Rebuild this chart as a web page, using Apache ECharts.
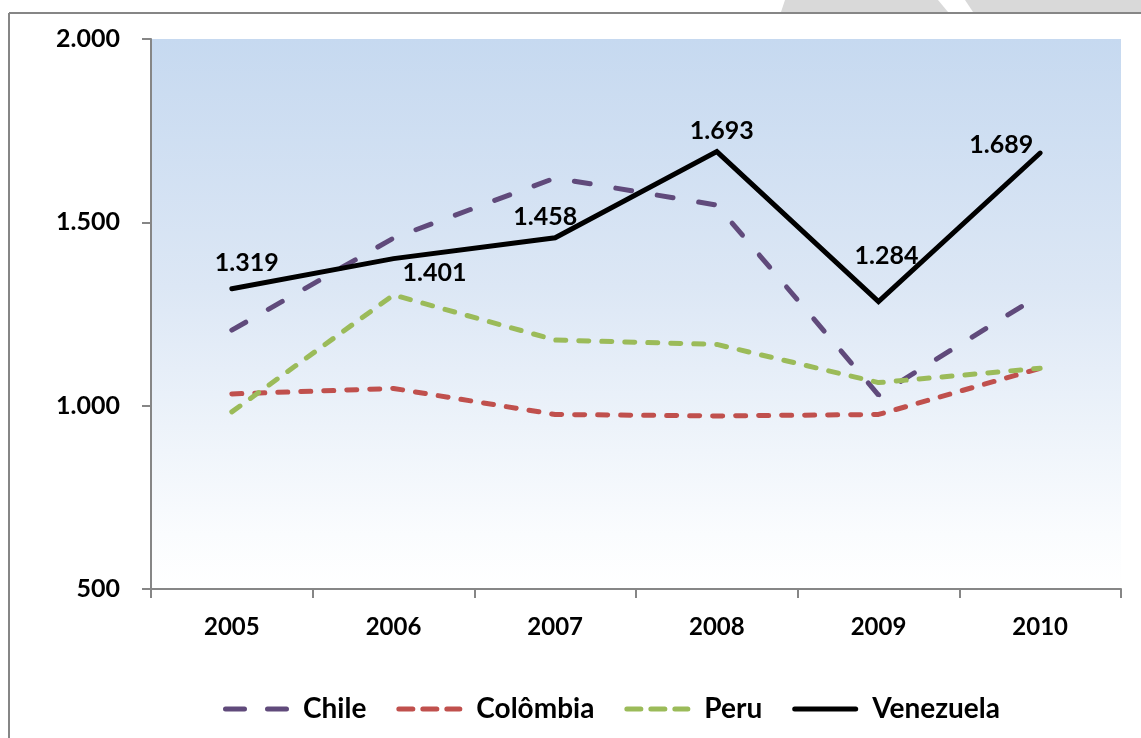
<!DOCTYPE html>
<html>
<head>
<meta charset="utf-8">
<script src="https://cdn.jsdelivr.net/npm/echarts@6/dist/echarts.min.js"></script>
<style>
html,body{margin:0;padding:0;background:#fff;}
#chart{width:1141px;height:738px;}
</style>
</head>
<body>
<div id="chart"></div>
<script>
var years = ['2005', '2006', '2007', '2008', '2009', '2010'];
var chile = [1206, 1457, 1621, 1547, 1029, 1302];
var colombia = [1032, 1047, 976, 972, 976, 1102];
var peru = [983, 1302, 1179, 1167, 1063, 1102];
var venezuela = [1319, 1401, 1458, 1693, 1284, 1689];
var yTicks = [500, 1000, 1500, 2000];

// label offsets for the Venezuela data labels (style only)
var vLabelOffsets = [[15, -26], [41, 14], [-10, -21], [5, -21], [8, -46], [-39, -8]];

function fmt(v) {
  return String(v).replace(/\B(?=(\d{3})+(?!\d))/g, '.');
}

// rounded dash pieces for legend icons (style only)
function dashPath(pieces, h) {
  var r = h / 2, d = '';
  pieces.forEach(function (p) {
    var a = p[0], b = p[1];
    d += 'M' + (a + r) + ',0 L' + (b - r) + ',0 A' + r + ',' + r + ' 0 0 1 ' + (b - r) + ',' + h +
         ' L' + (a + r) + ',' + h + ' A' + r + ',' + r + ' 0 0 1 ' + (a + r) + ',0 Z ';
  });
  return 'path://' + d;
}

var chart = echarts.init(document.getElementById('chart'));
var FONT = 'Lato';

var vData = venezuela.map(function (v, i) {
  return {
    value: v,
    label: { show: true, position: 'inside', offset: vLabelOffsets[i] }
  };
});

var option = {
  animation: false,
  backgroundColor: '#ffffff',
  graphic: [
    { type: 'polygon', shape: { points: [[785, 0], [938, 0], [948, 12], [781, 12]] }, style: { fill: '#d9d9d9' }, silent: true },
    { type: 'polygon', shape: { points: [[965, 0], [1141, 0], [1141, 12], [973, 12]] }, style: { fill: '#d9d9d9' }, silent: true },
    { type: 'line', shape: { x1: 9, y1: 13, x2: 1141, y2: 13 }, style: { stroke: '#868686', lineWidth: 2 }, silent: true },
    { type: 'line', shape: { x1: 9, y1: 13, x2: 9, y2: 738 }, style: { stroke: '#868686', lineWidth: 2 }, silent: true }
  ],
  grid: {
    left: 151, right: 20, top: 39, bottom: 149,
    show: true, borderWidth: 0,
    backgroundColor: new echarts.graphic.LinearGradient(0, 0, 0, 1, [
      { offset: 0, color: '#c6d9f0' },
      { offset: 0.45, color: '#dce7f5' },
      { offset: 0.9, color: '#fafcfe' },
      { offset: 1, color: '#ffffff' }
    ])
  },
  legend: {
    left: 218, top: 690,
    itemWidth: 66, itemHeight: 5,
    itemGap: 30,
    textStyle: { fontFamily: FONT, fontWeight: 'bold', fontSize: 28, color: '#000', padding: [0, 0, 0, 9] },
    data: [
      { name: 'Chile', icon: dashPath([[0, 24], [42, 66]], 5), itemStyle: { color: '#604a7b' } },
      { name: 'Colômbia', icon: dashPath([[0, 19], [24, 43], [48, 66]], 5), itemStyle: { color: '#c0504d' } },
      { name: 'Peru', icon: dashPath([[0, 19], [24, 43], [48, 66]], 5), itemStyle: { color: '#9bbb59' } },
      { name: 'Venezuela', icon: dashPath([[0, 66]], 5), itemStyle: { color: '#000000' } }
    ]
  },
  xAxis: {
    type: 'category',
    data: years,
    boundaryGap: true,
    axisLine: { lineStyle: { color: '#868686', width: 2 } },
    axisTick: { show: true, length: 9, lineStyle: { color: '#868686', width: 2 } },
    axisLabel: { fontFamily: FONT, fontWeight: 'bold', fontSize: 24, color: '#000', margin: 26 },
    splitLine: { show: false }
  },
  yAxis: {
    type: 'value',
    min: yTicks[0], max: yTicks[yTicks.length - 1], interval: 500,
    axisLine: { show: true, lineStyle: { color: '#868686', width: 2 } },
    axisTick: { show: true, length: 9, lineStyle: { color: '#868686', width: 2 } },
    axisLabel: { fontFamily: FONT, fontWeight: 'bold', fontSize: 25, color: '#000', margin: 31, formatter: function (v) { return fmt(v); } },
    splitLine: { show: false }
  },
  series: [
    {
      name: 'Chile', type: 'line', data: chile,
      symbol: 'none',
      lineStyle: { color: '#604a7b', width: 5, type: [16, 26], cap: 'round' },
      itemStyle: { color: '#604a7b' }
    },
    {
      name: 'Colômbia', type: 'line', data: colombia,
      symbol: 'none',
      lineStyle: { color: '#c0504d', width: 5, type: [10, 13], cap: 'round' },
      itemStyle: { color: '#c0504d' }
    },
    {
      name: 'Peru', type: 'line', data: peru,
      symbol: 'none',
      lineStyle: { color: '#9bbb59', width: 5, type: [10, 13], cap: 'round' },
      itemStyle: { color: '#9bbb59' }
    },
    {
      name: 'Venezuela', type: 'line', data: vData,
      symbol: 'circle', symbolSize: 0.1, showSymbol: true,
      lineStyle: { color: '#000000', width: 5, cap: 'round', join: 'miter' },
      itemStyle: { color: '#000000' },
      label: {
        show: true, fontFamily: FONT, fontWeight: 'bold', fontSize: 25, color: '#000',
        formatter: function (p) { return fmt(p.value); }
      },
      z: 5
    }
  ]
};
chart.setOption(option);
</script>
</body>
</html>
